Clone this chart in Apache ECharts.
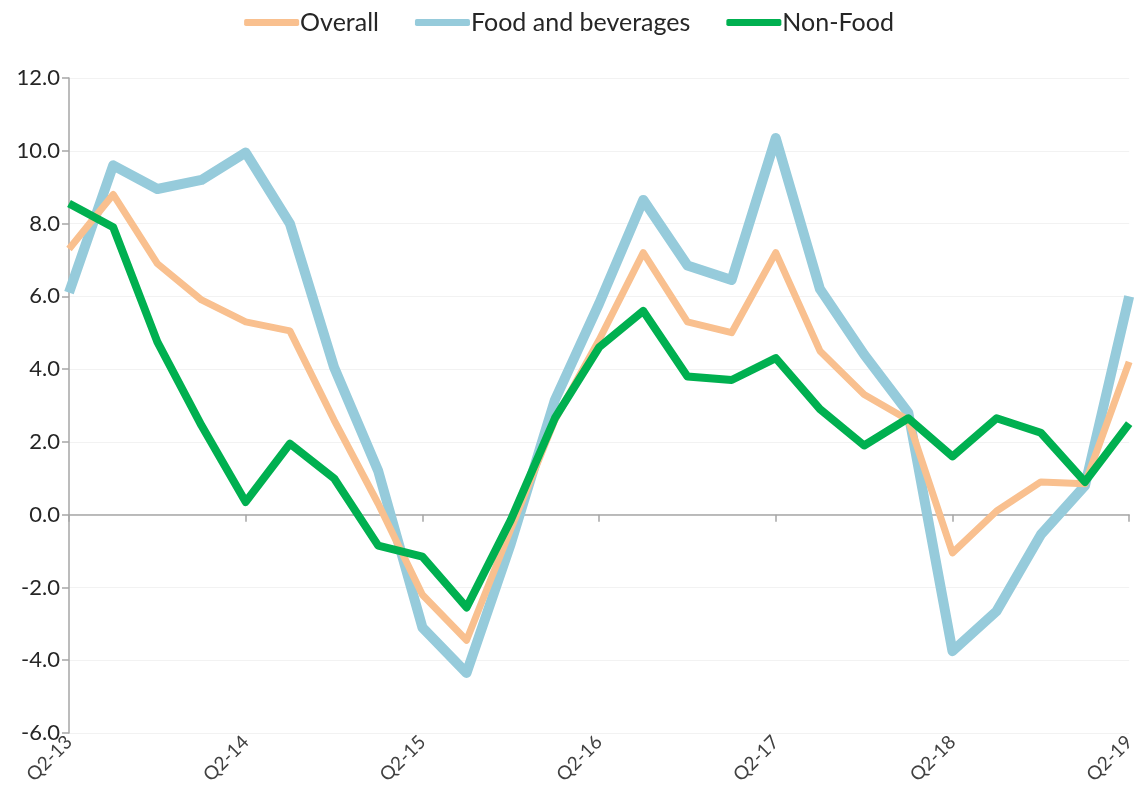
<!DOCTYPE html>
<html>
<head>
<meta charset="utf-8">
<script src="https://cdn.jsdelivr.net/npm/echarts@6/dist/echarts.min.js"></script>
<style>
  html, body { margin: 0; padding: 0; background: #fff; }
  #chart { width: 1138px; height: 793px; }
</style>
</head>
<body>
<div id="chart"></div>
<script>
// 季度
const quarters = [
  'Q2-13', 'Q3-13', 'Q4-13', 'Q1-14', 'Q2-14', 'Q3-14', 'Q4-14', 'Q1-15',
  'Q2-15', 'Q3-15', 'Q4-15', 'Q1-16', 'Q2-16', 'Q3-16', 'Q4-16', 'Q1-17',
  'Q2-17', 'Q3-17', 'Q4-17', 'Q1-18', 'Q2-18', 'Q3-18', 'Q4-18', 'Q1-19',
  'Q2-19'
]

// 三条线的数据
const overall = [
  7.3, 8.8, 6.9, 5.9, 5.3, 5.05, 2.6, 0.3, -2.2, -3.45, -0.4, 2.6,
  4.8, 7.2, 5.3, 5.0, 7.2, 4.5, 3.3, 2.6, -1.05, 0.1, 0.9, 0.85, 4.2
]
const food = [
  6.1, 9.6, 8.95, 9.2, 9.95, 8.0, 4.05, 1.2, -3.1, -4.35, -0.8, 3.15,
  5.8, 8.65, 6.85, 6.45, 10.35, 6.2, 4.4, 2.8, -3.75, -2.65, -0.55, 0.8, 6.0
]
const nonFood = [
  8.55, 7.9, 4.75, 2.45, 0.35, 1.95, 1.0, -0.85, -1.15, -2.55, -0.15, 2.65,
  4.6, 5.6, 3.8, 3.7, 4.3, 2.9, 1.9, 2.65, 1.6, 2.65, 2.25, 0.9, 2.5
]

const yTicks = { min: -6, max: 12, interval: 2 }

const font = 'Lato, "Liberation Sans", sans-serif'

const myChart = echarts.init(document.querySelector('#chart'))

const option = {
  animation: false,
  textStyle: { fontFamily: font },
  // 图例
  legend: {
    top: 5,
    left: 'center',
    itemWidth: 55,
    itemHeight: 7,
    itemGap: 36,
    textStyle: { fontSize: 25, color: '#262626', fontFamily: font, padding: [0, 0, 0, -4] },
    data: [
      { name: 'Overall', icon: 'roundRect', itemStyle: { color: '#f9c08f' } },
      { name: 'Food and beverages', icon: 'roundRect', itemStyle: { color: '#96cbdb' } },
      { name: 'Non-Food', icon: 'roundRect', itemStyle: { color: '#00b050' } }
    ]
  },
  grid: { left: 69, right: 5, top: 78, bottom: 60 },
  xAxis: [
    {
      // 0 轴的线和刻度
      type: 'category',
      data: quarters,
      boundaryGap: false,
      axisLine: { onZero: true, lineStyle: { color: '#a6a6a6', width: 1.5 } },
      axisTick: { interval: 3, length: 7, lineStyle: { color: '#a6a6a6', width: 1.5 } },
      axisLabel: { show: false },
      splitLine: { show: false }
    },
    {
      // 底部标签
      type: 'category',
      data: quarters,
      boundaryGap: false,
      position: 'bottom',
      axisLine: { show: false, onZero: false },
      axisTick: { show: false },
      axisLabel: {
        interval: 3,
        rotate: 45,
        fontSize: 19,
        color: '#404040',
        margin: 6
      }
    }
  ],
  yAxis: {
    type: 'value',
    min: yTicks.min,
    max: yTicks.max,
    interval: yTicks.interval,
    axisLine: { show: true, lineStyle: { color: '#a6a6a6', width: 1.5 } },
    axisTick: { show: true, length: 7, lineStyle: { color: '#a6a6a6', width: 1.5 } },
    axisLabel: {
      fontSize: 22,
      color: '#262626',
      margin: 9,
      formatter: v => v.toFixed(1)
    },
    splitLine: { lineStyle: { color: '#f2f2f2', width: 1 } }
  },
  series: [
    {
      name: 'Overall',
      type: 'line',
      data: overall,
      showSymbol: false,
      lineStyle: { color: '#f9c08f', width: 7, join: 'round' },
      itemStyle: { color: '#f9c08f' },
      z: 2
    },
    {
      name: 'Food and beverages',
      type: 'line',
      data: food,
      showSymbol: false,
      lineStyle: { color: '#96cbdb', width: 10, join: 'round' },
      itemStyle: { color: '#96cbdb' },
      z: 1
    },
    {
      name: 'Non-Food',
      type: 'line',
      data: nonFood,
      showSymbol: false,
      lineStyle: { color: '#00b050', width: 8, join: 'round' },
      itemStyle: { color: '#00b050' },
      z: 3
    }
  ]
}

myChart.setOption(option)
</script>
</body>
</html>
